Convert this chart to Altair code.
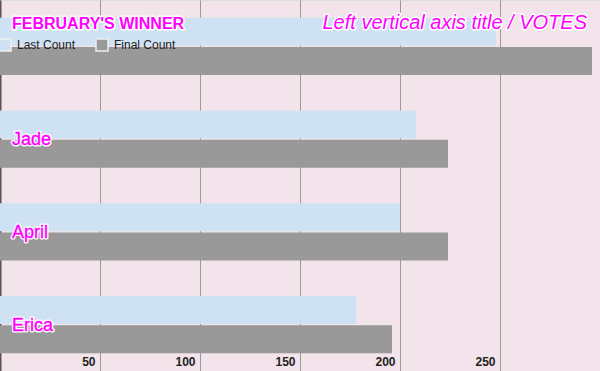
import altair as alt
import pandas as pd

candidates = ["Winner", "Jade", "April", "Erica"]
series = ["Last Count", "Final Count"]
last_count = [248, 208, 200, 178]
final_count = [296, 224, 224, 196]
tick_values = [0, 50, 100, 150, 200, 250, 300]
chart_title = "FEBRUARY'S WINNER"
axis_title = "Left vertical axis title / VOTES"
shown_labels = ["Jade", "April", "Erica"]

rows = []
for c, l, f in zip(candidates, last_count, final_count):
    rows.append({"candidate": c, "series": series[0], "value": l})
    rows.append({"candidate": c, "series": series[1], "value": f})
df = pd.DataFrame(rows)
lab_df = pd.DataFrame({"candidate": shown_labels})

MAG = "#FF00FF"
yscale = alt.Scale(domain=candidates, paddingInner=0.384, paddingOuter=0.192)

bars = alt.Chart(df).mark_bar().encode(
    y=alt.Y("candidate:N", sort=candidates, scale=yscale,
            axis=alt.Axis(labels=False, ticks=False, grid=False, domain=True,
                          domainColor="#555555", domainWidth=2, title=None)),
    yOffset=alt.YOffset("series:N", sort=series,
                        scale=alt.Scale(domain=series, paddingInner=0.035, paddingOuter=0)),
    x=alt.X("value:Q", scale=alt.Scale(domain=[0, 300], nice=False, zero=True),
            axis=alt.Axis(values=tick_values, grid=True, gridColor="#999999", gridWidth=1,
                          domain=False, ticks=False, title=None,
                          labelExpr="datum.value == 0 || datum.value == 300 ? '' : datum.label",
                          labelAlign="right", labelOffset=-5, labelBaseline="alphabetic",
                          labelPadding=-6, labelFontSize=12, labelFontWeight="bold",
                          labelColor="#222222", labelFlush=False, labelOverlap=False)),
    color=alt.Color("series:N", sort=series,
                    scale=alt.Scale(domain=series, range=["#CFE2F3", "#999999"]),
                    legend=alt.Legend(orient="none", legendX=-2, legendY=38, direction="horizontal",
                                      title=None, symbolType="square", symbolSize=144,
                                      symbolStrokeColor="#EEEEEE", symbolStrokeWidth=1.5,
                                      labelFontSize=12, labelColor="#222222", labelOffset=5,
                                      columnPadding=17, padding=0, symbolOpacity=1)),
)

halo = alt.Chart(lab_df).mark_text(align="left", baseline="middle", dy=1, fontSize=18,
                                   color=MAG, stroke="white", strokeWidth=3,
                                   strokeJoin="round").encode(
    y=alt.Y("candidate:N", sort=candidates, scale=yscale),
    x=alt.value(12), text="candidate:N")
labels = alt.Chart(lab_df).mark_text(align="left", baseline="middle", dy=1, fontSize=18,
                                     color=MAG, stroke=MAG, strokeWidth=0.4).encode(
    y=alt.Y("candidate:N", sort=candidates, scale=yscale),
    x=alt.value(12), text="candidate:N")

t_df = pd.DataFrame({"t": [chart_title]})
a_df = pd.DataFrame({"t": [axis_title]})
title_h = alt.Chart(t_df).mark_text(align="left", baseline="alphabetic", fontSize=16,
                                    fontWeight="bold", color=MAG, stroke="white",
                                    strokeWidth=3, strokeJoin="round").encode(
    x=alt.value(12), y=alt.value(29), text="t:N")
title_t = alt.Chart(t_df).mark_text(align="left", baseline="alphabetic", fontSize=16,
                                    fontWeight="bold", color=MAG).encode(
    x=alt.value(12), y=alt.value(29), text="t:N")
axt_h = alt.Chart(a_df).mark_text(align="right", baseline="alphabetic", fontSize=20,
                                  fontStyle="italic", color=MAG, stroke="white",
                                  strokeWidth=3, strokeJoin="round").encode(
    x=alt.value(587), y=alt.value(28.5), text="t:N")
axt_t = alt.Chart(a_df).mark_text(align="right", baseline="alphabetic", fontSize=20,
                                  fontStyle="italic", color=MAG).encode(
    x=alt.value(587), y=alt.value(28.5), text="t:N")

chart = alt.layer(bars, halo, labels, title_h, title_t, axt_h, axt_t).properties(
    width=600, height=371, background="#F2E4EA",
    autosize=alt.AutoSizeParams(type="none"), padding=0,
).configure_view(stroke=None).configure(font="Liberation Sans")

chart.save("out.html", embed_options={"renderer": "svg", "actions": False})
